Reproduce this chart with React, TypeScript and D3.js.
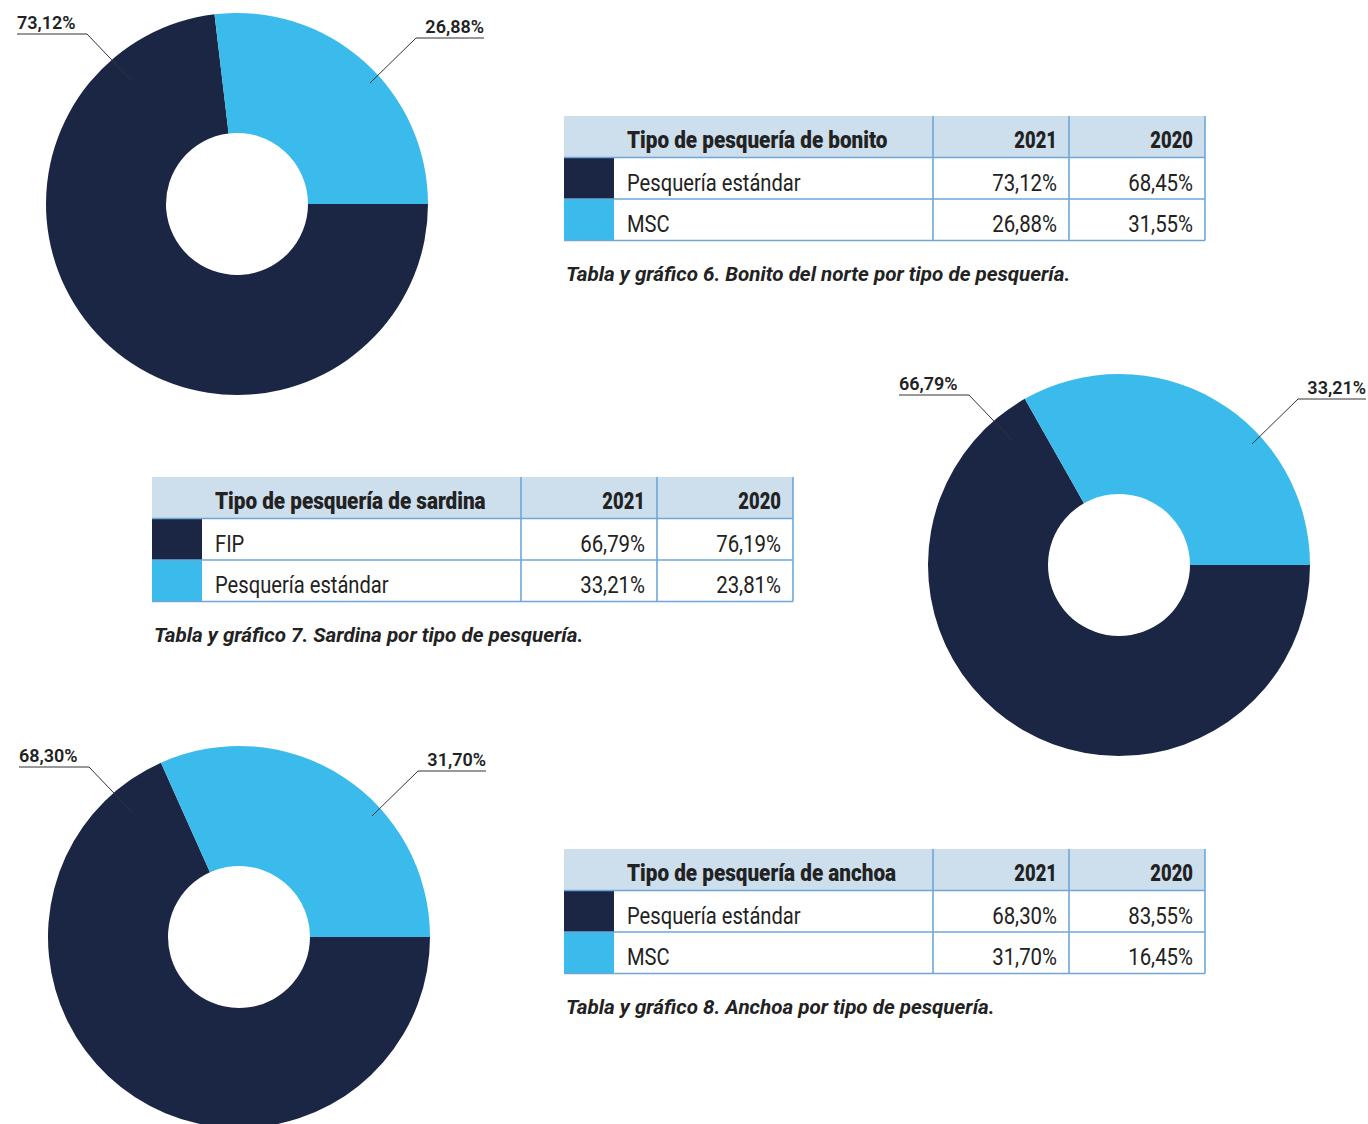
import { useRef, useEffect } from "react";
import * as d3 from "d3";

// Chart data (percentages), one group per species
const years = ["2021", "2020"];

const bonitoTypes = ["Pesquería estándar", "MSC"];
const bonito2021 = [73.12, 26.88];
const bonito2020 = [68.45, 31.55];

const sardinaTypes = ["FIP", "Pesquería estándar"];
const sardina2021 = [66.79, 33.21];
const sardina2020 = [76.19, 23.81];

const anchoaTypes = ["Pesquería estándar", "MSC"];
const anchoa2021 = [68.3, 31.7];
const anchoa2020 = [83.55, 16.45];

const titles = [
  "Tipo de pesquería de bonito",
  "Tipo de pesquería de sardina",
  "Tipo de pesquería de anchoa",
];
const captions = [
  "Tabla y gráfico 6. Bonito del norte por tipo de pesquería.",
  "Tabla y gráfico 7. Sardina por tipo de pesquería.",
  "Tabla y gráfico 8. Anchoa por tipo de pesquería.",
];

const WIDTH = 1368;
const HEIGHT = 1124;
const COLORS = ["#1b2645", "#3bbbec"];
const HEADER_FILL = "#cddfed";
const GRID = "#6ea7d7";
const TEXT = "#222222";
const FONT = "Roboto, 'Noto Sans', sans-serif";

// layout of each panel: donut centre and table corner
const panels = [
  { types: bonitoTypes, v2021: bonito2021, v2020: bonito2020, cx: 237, cy: 204, tx: 564, ty: 116 },
  { types: sardinaTypes, v2021: sardina2021, v2020: sardina2020, cx: 1119, cy: 565, tx: 152, ty: 477 },
  { types: anchoaTypes, v2021: anchoa2021, v2020: anchoa2020, cx: 239, cy: 937, tx: 564, ty: 849 },
];

const R_OUT = 191;
const R_IN = 71;
const COL_W = [50, 319, 136, 136];
const ROW_H = 41.5;

const fmt = (v: number) => v.toFixed(2).replace(".", ",") + "%";

type G = d3.Selection<SVGGElement, unknown, null, undefined>;

// text squeezed horizontally to mimic the condensed face of the original
function label(
  g: G,
  x: number,
  y: number,
  str: string,
  opts: { size: number; weight?: number; anchor?: string; sx?: number; italic?: boolean }
) {
  g.append("text")
    .attr("transform", `translate(${x},${y}) scale(${opts.sx ?? 1},1)`)
    .attr("text-anchor", opts.anchor ?? "start")
    .attr("font-family", FONT)
    .attr("font-size", opts.size)
    .attr("font-weight", opts.weight ?? 400)
    .attr("font-style", opts.italic ? "italic" : "normal")
    .attr("fill", TEXT)
    .text(str);
}

export default function App() {
  const svgRef = useRef<SVGSVGElement>(null);

  useEffect(() => {
    if (!svgRef.current) return;
    const svg = d3.select(svgRef.current);
    svg.selectAll("*").remove();

    const pie = d3
      .pie<number>()
      .sort(null)
      .startAngle(Math.PI / 2)
      .endAngle(Math.PI / 2 + 2 * Math.PI);
    const arc = d3.arc<d3.PieArcDatum<number>>().innerRadius(R_IN).outerRadius(R_OUT);

    // leader placement is the same on every donut
    const leaders = [
      { anchor: [-106, -124], elbow: [-150, -170], end: -220, textAnchor: "start", dy: -175 },
      { anchor: [133, -121], elbow: [179, -166], end: 247, textAnchor: "end", dy: -171 },
    ];

    panels.forEach((p, i) => {
      // Donut
      const g = svg.append("g").attr("transform", `translate(${p.cx},${p.cy})`) as G;
      g.selectAll("path")
        .data(pie(p.v2021))
        .join("path")
        .attr("d", arc)
        .attr("fill", (_, j) => COLORS[j]);

      leaders.forEach((l, j) => {
        g.append("polyline")
          .attr("points", `${l.anchor[0]},${l.anchor[1]} ${l.elbow[0]},${l.elbow[1]} ${l.end},${l.elbow[1]}`)
          .attr("fill", "none")
          .attr("stroke", "#333")
          .attr("stroke-width", 1);
        label(g, l.end, l.dy, fmt(p.v2021[j]), { size: 18, weight: 600, anchor: l.textAnchor });
      });

      // Table
      const t = svg.append("g").attr("transform", `translate(${p.tx},${p.ty})`) as G;
      const colX = d3.cumsum([0, ...COL_W]);
      const totalW = colX[colX.length - 1];
      const rows = d3.range(p.types.length);
      const y = d3.scaleBand<number>().domain([-1, ...rows]).range([0, ROW_H * (rows.length + 1)]);
      const bottom = y.range()[1];

      t.append("rect")
        .attr("width", totalW)
        .attr("height", y.bandwidth())
        .attr("fill", HEADER_FILL);
      t.selectAll("rect.sw")
        .data(rows)
        .join("rect")
        .attr("class", "sw")
        .attr("y", (r) => y(r)!)
        .attr("width", COL_W[0])
        .attr("height", y.bandwidth())
        .attr("fill", (r) => COLORS[r]);

      // grid lines
      [...rows.map((r) => y(r)!), bottom].forEach((yy) => {
        t.append("line")
          .attr("x1", 0)
          .attr("x2", totalW)
          .attr("y1", yy)
          .attr("y2", yy)
          .attr("stroke", GRID)
          .attr("stroke-width", 1.6);
      });
      [colX[2], colX[3], colX[4]].forEach((xx) => {
        t.append("line")
          .attr("x1", xx)
          .attr("x2", xx)
          .attr("y1", 0)
          .attr("y2", bottom)
          .attr("stroke", GRID)
          .attr("stroke-width", 1.6);
      });

      // header
      const headY = y(-1)! + 32;
      label(t, colX[1] + 13, headY, titles[i], { size: 23, weight: 900, sx: 0.9 });
      years.forEach((yr, k) => {
        label(t, colX[3 + k] - 12, headY, yr, { size: 23, weight: 900, sx: 0.8, anchor: "end" });
      });

      // body
      rows.forEach((r) => {
        const by = y(r)! + 33;
        label(t, colX[1] + 13, by, p.types[r], { size: 24, weight: 400, sx: 0.84 });
        [p.v2021[r], p.v2020[r]].forEach((v, k) => {
          label(t, colX[3 + k] - 12, by, fmt(v), { size: 24, weight: 400, sx: 0.85, anchor: "end" });
        });
      });

      // caption
      label(t, 2, bottom + 40, captions[i], { size: 20, weight: 700, italic: true, sx: 1.03 });
    });
  }, []);

  return (
    <svg
      ref={svgRef}
      width={WIDTH}
      height={HEIGHT}
      viewBox={`0 0 ${WIDTH} ${HEIGHT}`}
      style={{ position: "absolute", left: 0, top: 0, display: "block", background: "#fff" }}
    />
  );
}
